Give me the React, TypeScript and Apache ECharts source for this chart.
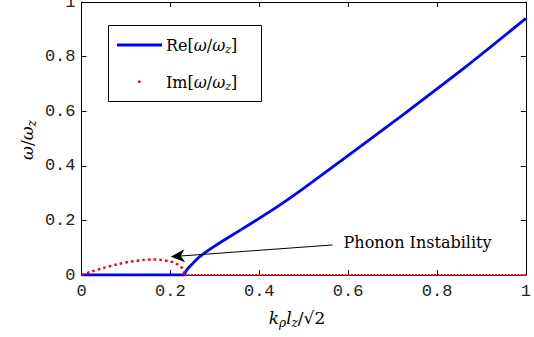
import React, { useEffect, useRef } from "react";
import * as echarts from "echarts";

// ---- data ----
const xTicks = [0, 0.2, 0.4, 0.6, 0.8, 1];
const yTicks = [0, 0.2, 0.4, 0.6, 0.8, 1];
const reK = [0, 0.232, 0.234, 0.237, 0.243, 0.252, 0.266, 0.296, 0.333, 0.376, 0.446, 0.502, 0.618, 0.73, 0.865, 1.0];
const reW = [0, 0, 0.011, 0.019, 0.03, 0.045, 0.067, 0.102, 0.14, 0.183, 0.256, 0.32, 0.459, 0.595, 0.763, 0.94];
const imK = [0, 0.02, 0.05, 0.08, 0.11, 0.14, 0.16, 0.18, 0.2, 0.215, 0.225, 0.229, 0.232];
const imW = [0, 0.011, 0.026, 0.039, 0.049, 0.055, 0.057, 0.055, 0.049, 0.04, 0.028, 0.018, 0];
const imTailK = [0.232, 1];
const imTailW = [0, 0];
const annotationTail = [0.565, 0.11];
const annotationTip = [0.201, 0.067];
const annotationText = "Phonon Instability";
const reLabel = "{r|Re}{b|[}{i|ω}{b|/}{i|ω}{s|z}{b|]}";
const imLabel = "{r|Im}{b|[}{i|ω}{b|/}{i|ω}{s|z}{b|]}";
const yTitle = "{i|ω}{b|/}{i|ω}{s|z}";
const xTitle = "{i|k}{s|ρ}{i|l}{s|z}{b|/√2}";

const SERIF = "'DejaVu Serif', 'Liberation Serif', serif";
const MONO = "'Liberation Mono', 'DejaVu Sans Mono', monospace";
const BLUE = "#0000ff";
const RED = "#ff0000";

const makeRich = (size: number) => ({
  r: { fontFamily: SERIF, fontSize: size, color: "#000" },
  b: { fontFamily: SERIF, fontSize: size, color: "#000" },
  i: { fontFamily: SERIF, fontSize: size, fontStyle: "italic", color: "#000" },
  s: {
    fontFamily: SERIF,
    fontSize: Math.round(size * 0.68),
    fontStyle: "italic",
    color: "#000",
    padding: [Math.round(size * 0.5), 0, 0, 0],
  },
});

const fmt = (v: number) => String(+v.toFixed(1));

export default function App() {
  const ref = useRef<HTMLDivElement>(null);
  useEffect(() => {
    if (!ref.current) return;
    const chart = echarts.init(ref.current, null, { renderer: "svg" });
    const axisCommon = {
      type: "value" as const,
      min: 0,
      max: 1,
      interval: 0.2,
      axisLine: { show: true, onZero: false, lineStyle: { color: "#000", width: 1 } },
      axisTick: { show: true, inside: true, length: 5, lineStyle: { color: "#000" } },
      splitLine: { show: false },
    };
    const labelStyle = { fontFamily: MONO, fontSize: 17, color: "#222" };
    chart.setOption({
      animation: false,
      backgroundColor: "#fff",
      grid: { left: 81.5, right: 7.5, top: 2, bottom: 62, containLabel: false },
      xAxis: [
        {
          ...axisCommon,
          position: "bottom",
          axisLabel: {
            show: true,
            ...labelStyle,
            margin: 8,
            formatter: (v: number) => (xTicks.includes(+v.toFixed(1)) ? fmt(v) : ""),
          },
        },
        { ...axisCommon, position: "top", axisLabel: { show: false } },
      ],
      yAxis: [
        {
          ...axisCommon,
          position: "left",
          axisLabel: {
            show: true,
            showMaxLabel: false,
            ...labelStyle,
            margin: 6,
            formatter: (v: number) => (yTicks.includes(+v.toFixed(1)) ? fmt(v) : ""),
          },
        },
        { ...axisCommon, position: "right", axisLabel: { show: false } },
      ],
      series: [
        {
          type: "line",
          xAxisIndex: 0,
          yAxisIndex: 0,
          data: reK.map((k, i) => [k, reW[i]]),
          showSymbol: false,
          smooth: 0.2,
          lineStyle: { color: BLUE, width: 2.8, join: "round" },
          z: 3,
        },
        {
          type: "line",
          xAxisIndex: 0,
          yAxisIndex: 0,
          data: imK.map((k, i) => [k, imW[i]]),
          showSymbol: false,
          smooth: 0.3,
          lineStyle: { color: RED, width: 2.5, type: [2.5, 3.2] },
          z: 4,
        },
        {
          type: "line",
          xAxisIndex: 0,
          yAxisIndex: 0,
          data: imTailK.map((k, i) => [k, imTailW[i]]),
          showSymbol: false,
          lineStyle: { color: RED, width: 2.2, type: [2, 1.2] },
          z: 4,
        },
      ],
    });

    const topLabelPos = chart.convertToPixel({ gridIndex: 0 }, [0, yTicks[yTicks.length - 1]]) as number[];
    const tail = chart.convertToPixel({ gridIndex: 0 }, annotationTail) as number[];
    const tip = chart.convertToPixel({ gridIndex: 0 }, annotationTip) as number[];
    const dx = tip[0] - tail[0];
    const dy = tip[1] - tail[1];
    const len = Math.hypot(dx, dy);
    const ux = dx / len;
    const uy = dy / len;
    const px = -uy;
    const py = ux;
    const headLen = 14;
    const headHalf = 6.5;
    const notch = 10;
    const base = [tip[0] - ux * headLen, tip[1] - uy * headLen];
    const nb = [tip[0] - ux * notch, tip[1] - uy * notch];
    const rich16 = makeRich(16);
    const rich17 = makeRich(17);

    chart.setOption({
      graphic: [
        {
          type: "text",
          x: topLabelPos[0] - 6,
          y: topLabelPos[1],
          style: {
            text: fmt(yTicks[yTicks.length - 1]),
            ...labelStyle,
            fill: "#222",
            align: "right",
            verticalAlign: "middle",
          },
        },
        {
          type: "rect",
          shape: { x: 108.5, y: 25.5, width: 153, height: 76 },
          style: { fill: "#fff", stroke: "#000", lineWidth: 1 },
          z: 10,
        },
        {
          type: "line",
          shape: { x1: 117, y1: 45, x2: 162, y2: 45 },
          style: { stroke: BLUE, lineWidth: 2.8 },
          z: 11,
        },
        {
          type: "rect",
          shape: { x: 138, y: 80.5, width: 2.5, height: 2.5 },
          style: { fill: RED },
          z: 11,
        },
        {
          type: "text",
          x: 166,
          y: 45,
          style: { text: reLabel, rich: rich16, verticalAlign: "middle", align: "left" },
          z: 11,
        },
        {
          type: "text",
          x: 166,
          y: 82,
          style: { text: imLabel, rich: rich16, verticalAlign: "middle", align: "left" },
          z: 11,
        },
        {
          type: "text",
          x: 27,
          y: 140,
          rotation: Math.PI / 2,
          style: { text: yTitle, rich: rich17, verticalAlign: "middle", align: "center" },
          z: 11,
        },
        {
          type: "text",
          x: 297,
          y: 318,
          style: { text: xTitle, rich: rich17, verticalAlign: "middle", align: "center" },
          z: 11,
        },
        {
          type: "line",
          shape: { x1: tail[0], y1: tail[1], x2: nb[0], y2: nb[1] },
          style: { stroke: "#000", lineWidth: 1 },
          z: 12,
        },
        {
          type: "polygon",
          shape: {
            points: [
              [tip[0], tip[1]],
              [base[0] + px * headHalf, base[1] + py * headHalf],
              [nb[0], nb[1]],
              [base[0] - px * headHalf, base[1] - py * headHalf],
            ],
          },
          style: { fill: "#000" },
          z: 12,
        },
        {
          type: "text",
          x: tail[0] + 11,
          y: tail[1] - 2,
          style: {
            text: annotationText,
            fontFamily: SERIF,
            fontSize: 16,
            fill: "#000",
            verticalAlign: "middle",
            align: "left",
          },
          z: 12,
        },
      ],
    });
    return () => chart.dispose();
  }, []);
  return <div ref={ref} style={{ position: "fixed", left: 0, top: 0, width: 534, height: 337 }} />;
}
